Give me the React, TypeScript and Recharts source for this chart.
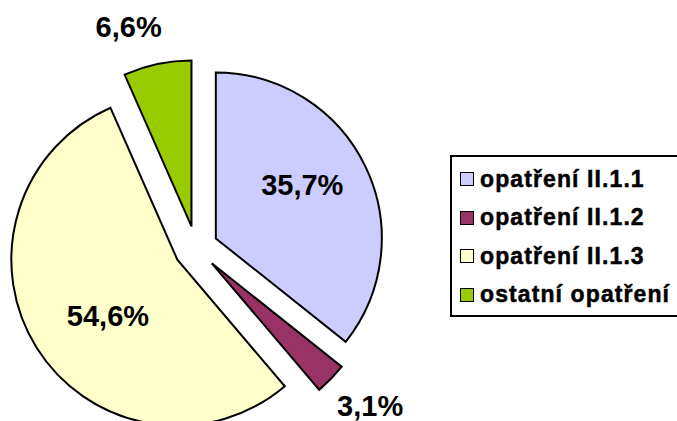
import { PieChart, Pie, Cell, Legend } from 'recharts';

const categories = ['opatření II.1.1', 'opatření II.1.2', 'opatření II.1.3', 'ostatní opatření'];
const shares = [35.7, 3.1, 54.6, 6.6];
const colors = ['#CCCCFF', '#993366', '#FFFFCC', '#99CC00'];

const data = categories.map((name, i) => ({ name, value: shares[i] }));

const CX = 191;
const CY = 243;
const R = 166;
const EXPLODE = 22;
const RAD = Math.PI / 180;
const FONT = '"Liberation Sans", Arial, sans-serif';

// small nudges for the value labels
const labelNudge = [
  [0, -12],
  [9, -2],
  [12, 5],
  [-20, 4],
];

// mid angle of every slice, clockwise from 12 o'clock
const total = shares.reduce((a, b) => a + b, 0);
const midAngles = shares.map((v, i) => {
  const before = shares.slice(0, i).reduce((a, b) => a + b, 0);
  return ((before + v / 2) / total) * 360;
});

const LegendBox = () => (
  <div
    style={{
      border: '2px solid #000',
      borderRight: 'none',
      background: '#fff',
      width: 240,
      paddingTop: 3,
      paddingBottom: 1,
      fontFamily: FONT,
      fontWeight: 700,
      fontSize: 23,
      letterSpacing: 1.1,
      color: '#000',
      WebkitTextStroke: '0.5px #000',
    }}
  >
    {categories.map((c, i) => (
      <div key={c} style={{ height: 38.5, display: 'flex', alignItems: 'center', whiteSpace: 'nowrap' }}>
        <span
          style={{
            display: 'inline-block',
            width: 12,
            height: 12,
            marginLeft: 8,
            marginRight: 6,
            border: '1.5px solid #000',
            background: colors[i],
            flexShrink: 0,
          }}
        />
        <span>{c}</span>
      </div>
    ))}
  </div>
);

const makeLabel = (k: number) => (props: any) => {
  if (props.index !== k) return null;
  const inside = shares[k] > 20;
  const r = inside ? 96 : R + 42;
  const a = props.midAngle;
  const x = props.cx + r * Math.cos(-a * RAD) + labelNudge[k][0];
  const y = props.cy + r * Math.sin(-a * RAD) + labelNudge[k][1];
  return (
    <text
      x={x}
      y={y}
      textAnchor="middle"
      dominantBaseline="central"
      fontFamily={FONT}
      fontWeight="bold"
      fontSize={29}
      fill="#000"
    >
      {shares[k].toFixed(1).replace('.', ',')}%
    </text>
  );
};

export default function App() {
  return (
    <div style={{ position: 'fixed', left: 0, top: 0, background: '#fff' }}>
      <PieChart width={677} height={421}>
        {data.map((d, k) => {
          const m = midAngles[k] * RAD;
          return (
            <Pie
              key={d.name}
              data={data}
              dataKey="value"
              nameKey="name"
              cx={CX + EXPLODE * Math.sin(m)}
              cy={CY - EXPLODE * Math.cos(m)}
              outerRadius={R}
              startAngle={90}
              endAngle={-270}
              isAnimationActive={false}
              labelLine={false}
              label={makeLabel(k)}
            >
              {data.map((e, i) => (
                <Cell
                  key={e.name}
                  fill={i === k ? colors[i] : 'none'}
                  stroke={i === k ? '#000' : 'none'}
                  strokeWidth={2}
                />
              ))}
            </Pie>
          );
        })}
        <Legend
          layout="vertical"
          align="right"
          verticalAlign="middle"
          content={<LegendBox />}
          wrapperStyle={{ left: 450, top: 155, width: 240 }}
        />
      </PieChart>
    </div>
  );
}
